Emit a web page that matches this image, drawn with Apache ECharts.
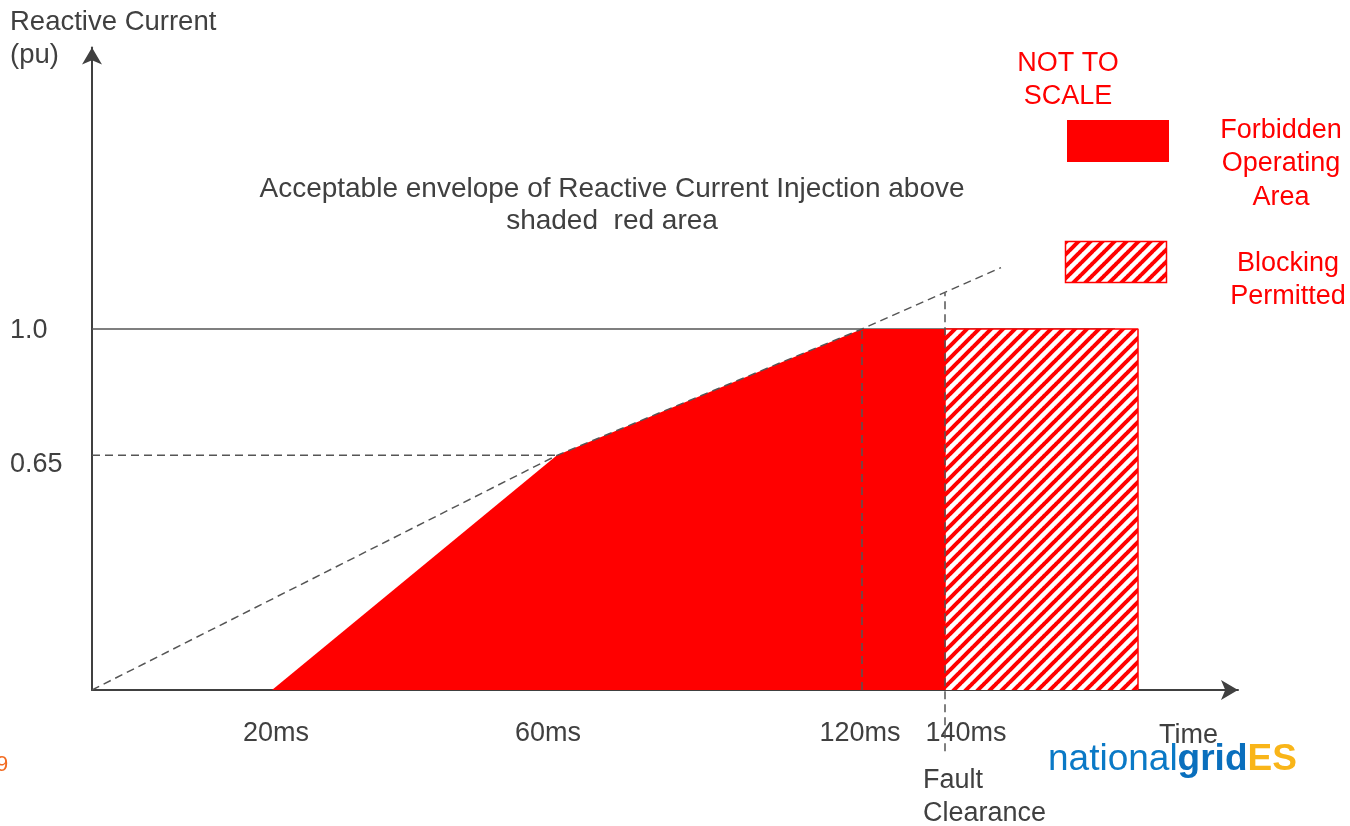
<!DOCTYPE html>
<html>
<head>
<meta charset="utf-8">
<script src="https://cdn.jsdelivr.net/npm/echarts@6/dist/echarts.min.js"></script>
<style>
html,body{margin:0;padding:0;background:#fff;}
#chart{width:1350px;height:826px;}
</style>
</head>
<body>
<div id="chart"></div>
<script>
// ---- Data (schematic, NOT TO SCALE: x in arbitrary schematic units) ----
const yTickValues = [0.65, 1.0];
const yTickLabels = ['0.65', '1.0'];
const xTickPos = [18.4, 45.6, 76.8, 87.4];
const xTickLabels = ['20ms', '60ms', '120ms', '140ms'];

const forbiddenX = [18, 46.5, 77, 85.3];
const forbiddenY = [0, 0.65, 1.0, 1.0];

const blockingX = [85.3, 85.3, 104.6, 104.6];
const blockingY = [0, 1.0, 1.0, 0];

const envelopeX = [0, 46.5, 77, 90.9];
const envelopeY = [0, 0.65, 1.0, 1.17];

const refLine065X = [0, 46.5];
const refLine065Y = [0.65, 0.65];
const refLine1X = [0, 102.3];
const refLine1Y = [1.0, 1.0];
const t120X = [77, 77];
const t120Y = [0, 1.0];
const faultX = [85.3, 85.3];
const faultY = [-0.17, 1.10];

const zip = (xs, ys) => xs.map((x, i) => [x, ys[i]]);

// hatch pattern
function makeHatch() {
  const s = 12;
  const c = document.createElement('canvas');
  c.width = s; c.height = s;
  const ctx = c.getContext('2d');
  ctx.fillStyle = '#ffffff';
  ctx.fillRect(0, 0, s, s);
  ctx.strokeStyle = '#ff0000';
  ctx.lineWidth = 4;
  [-s, 0, s].forEach(o => {
    ctx.beginPath();
    ctx.moveTo(o - 1, s + 1);
    ctx.lineTo(o + s + 1, -1);
    ctx.stroke();
  });
  return c;
}
const hatch = makeHatch();

const GRAY = '#404040';
const LINE = '#555555';
const FONT = '"Liberation Sans", Arial, sans-serif';

const chart = echarts.init(document.getElementById('chart'), null, {renderer: 'canvas'});

const Y_MAX = 1.78;
const option = {
  animation: false,
  backgroundColor: '#ffffff',
  grid: {left: 92, right: 112, top: 690 - Y_MAX * 361, bottom: 136, containLabel: false},
  xAxis: {
    type: 'value', min: 0, max: 114.6,
    axisLine: {show: true, lineStyle: {color: GRAY, width: 2}, symbol: ['none', 'arrow'], symbolSize: [15, 17]},
    axisTick: {show: false},
    splitLine: {show: false},
    axisLabel: {
      customValues: xTickPos,
      formatter: (v) => { const i = xTickPos.indexOf(v); return i >= 0 ? xTickLabels[i] : ''; },
      color: GRAY, fontSize: 27, fontFamily: FONT, margin: 30
    }
  },
  yAxis: {
    type: 'value', min: 0, max: Y_MAX,
    axisLine: {show: true, lineStyle: {color: GRAY, width: 2}, symbol: ['none', 'arrow'], symbolSize: [15, 17]},
    axisTick: {show: false},
    splitLine: {show: false},
    axisLabel: {
      customValues: yTickValues,
      formatter: (v) => { const i = yTickValues.indexOf(v); if (i < 0) return ''; return (v === 1 ? '{a|' : '{b|') + yTickLabels[i] + '}'; },
      align: 'left', margin: 82, color: GRAY, fontSize: 27, fontFamily: FONT,
      rich: {
        a: {fontSize: 27, fontFamily: FONT, color: GRAY, padding: [4, 0, 0, 0]},
        b: {fontSize: 27, fontFamily: FONT, color: GRAY, padding: [18, 0, 0, 0]}
      }
    }
  },
  series: [
    {
      type: 'line', name: 'ref1', data: zip(refLine1X, refLine1Y), symbol: 'none', z: 1,
      lineStyle: {color: LINE, width: 1.5}, silent: true
    },
    {
      type: 'line', name: 'Forbidden Operating Area', data: zip(forbiddenX, forbiddenY), symbol: 'none', z: 2,
      lineStyle: {width: 0, color: '#ff0000'}, areaStyle: {color: '#ff0000', opacity: 1, origin: 0}, silent: true
    },
    {
      type: 'line', name: 'Blocking Permitted', data: zip(blockingX, blockingY), symbol: 'none', z: 3,
      lineStyle: {width: 1.5, color: '#ff0000'}, areaStyle: {color: {image: hatch, repeat: 'repeat'}, opacity: 1, origin: 0}, silent: true
    },
    {
      type: 'line', name: 'envelope', data: zip(envelopeX, envelopeY), symbol: 'none', z: 4,
      lineStyle: {color: LINE, width: 1.5, type: [8, 5]}, silent: true
    },
    {
      type: 'line', name: 'ref065', data: zip(refLine065X, refLine065Y), symbol: 'none', z: 4,
      lineStyle: {color: LINE, width: 1.5, type: [8, 5]}, silent: true
    },
    {
      type: 'line', name: 't120', data: zip(t120X, t120Y), symbol: 'none', z: 4,
      lineStyle: {color: LINE, width: 1.5, type: [8, 5]}, silent: true
    },
    {
      type: 'line', name: 'fault', data: zip(faultX, faultY), symbol: 'none', z: 4, clip: false,
      lineStyle: {color: LINE, width: 1.5, type: [8, 5]}, silent: true
    }
  ],
  graphic: [
    {type: 'text', left: 10, top: 6, style: {text: 'Reactive Current\n(pu)', fill: GRAY, font: '27.5px ' + FONT, lineHeight: 33}},
    {type: 'text', z: 10, style: {x: 1068, y: 80, text: 'NOT TO\nSCALE', fill: '#ff0000', font: '27px ' + FONT, lineHeight: 33, align: 'center', verticalAlign: 'middle', textAlign: 'center', textVerticalAlign: 'middle'}},
    {type: 'rect', shape: {x: 1067, y: 120, width: 102, height: 42}, style: {fill: '#ff0000'}},
    {type: 'rect', shape: {x: 1065.5, y: 241.5, width: 101, height: 41}, style: {fill: {image: hatch, repeat: 'repeat'}, stroke: '#ff0000', lineWidth: 1.5}},
    {type: 'text', style: {x: 1281, y: 164, text: 'Forbidden\nOperating\nArea', fill: '#ff0000', font: '27px ' + FONT, lineHeight: 33.5, align: 'center', verticalAlign: 'middle', textAlign: 'center', textVerticalAlign: 'middle'}},
    {type: 'text', style: {x: 1288, y: 280, text: 'Blocking\nPermitted', fill: '#ff0000', font: '27px ' + FONT, lineHeight: 33, align: 'center', verticalAlign: 'middle', textAlign: 'center', textVerticalAlign: 'middle'}},
    {type: 'text', style: {x: 612, y: 205, text: 'Acceptable envelope of Reactive Current Injection above\nshaded  red area', fill: GRAY, font: '28px ' + FONT, lineHeight: 32, align: 'center', verticalAlign: 'middle', textAlign: 'center', textVerticalAlign: 'middle'}},
    {type: 'text', style: {x: 923, y: 797, text: 'Fault\nClearance', fill: GRAY, font: '27px ' + FONT, lineHeight: 33, align: 'left', verticalAlign: 'middle', textAlign: 'left', textVerticalAlign: 'middle'}},
    {type: 'text', style: {x: 1159, y: 736, text: 'Time', fill: GRAY, font: '27px ' + FONT, align: 'left', verticalAlign: 'middle', textAlign: 'left', textVerticalAlign: 'middle'}},
    {type: 'text', z: 20, style: {x: 1048, y: 760, text: '{n|national}{g|grid}{e|ES}', align: 'left', verticalAlign: 'middle', textAlign: 'left', textVerticalAlign: 'middle',
      rich: {
        n: {fontSize: 37, fontFamily: FONT, fill: '#0a79c6', color: '#0a79c6'},
        g: {fontSize: 37, fontFamily: FONT, fontWeight: 'bold', fill: '#0a6fbd', color: '#0a6fbd'},
        e: {fontSize: 37, fontFamily: FONT, fontWeight: 'bold', fill: '#f9b519', color: '#f9b519'}
      }}},
    {type: 'text', style: {x: -4, y: 765, text: '9', fill: '#f26b21', font: '22px ' + FONT, align: 'left', verticalAlign: 'middle', textAlign: 'left', textVerticalAlign: 'middle'}}
  ]
};
chart.setOption(option);
</script>
</body>
</html>
